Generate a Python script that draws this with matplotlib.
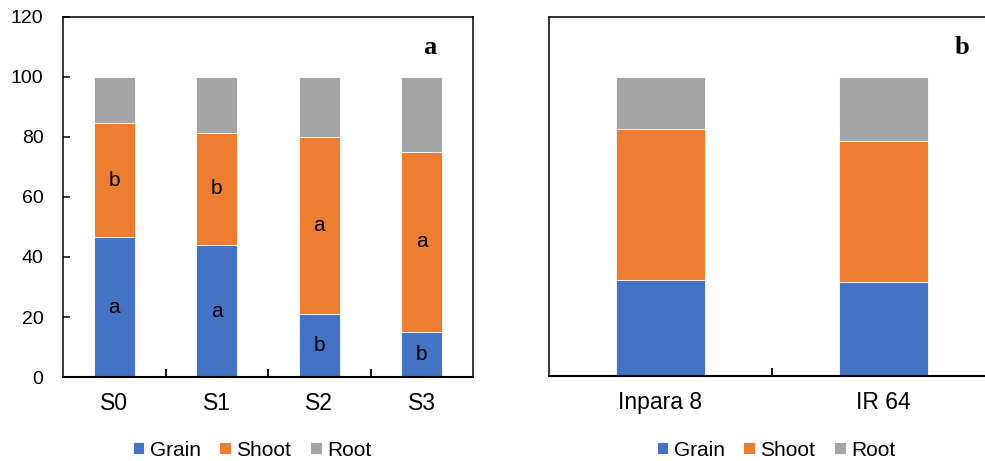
import numpy as np
import matplotlib
matplotlib.use("Agg")
import matplotlib.pyplot as plt

plt.rcParams['font.family'] = ['Liberation Sans', 'DejaVu Sans']

# panel a: salinity levels
levels = ["S0", "S1", "S2", "S3"]
grain_a = [46.5, 44.0, 21.0, 15.1]
shoot_a = [38.1, 37.3, 58.8, 60.0]
root_a = [15.4, 18.7, 20.2, 24.9]
grain_letters = ["a", "a", "b", "b"]
shoot_letters = ["b", "b", "a", "a"]

# panel b: varieties
varieties = ["Inpara 8", "IR 64"]
grain_b = [32.2, 31.3]
shoot_b = [50.2, 47.2]
root_b = [17.6, 21.5]

colors = {"Grain": "#4472C4", "Shoot": "#ED7D31", "Root": "#A5A5A5"}

fig = plt.figure(figsize=(9.85, 4.61), dpi=100)
ax1 = fig.add_axes([0.064, 0.182, 0.4162, 0.7816])
ax2 = fig.add_axes([0.5574, 0.1844, 0.4523, 0.779])


def stacked(ax, cats, grain, shoot, root):
    x = np.arange(len(cats))
    g = np.array(grain)
    s = np.array(shoot)
    r = np.array(root)
    kw = dict(width=0.4, edgecolor="white", linewidth=0.6)
    ax.bar(x, g, color=colors["Grain"], label="Grain", **kw)
    ax.bar(x, s, bottom=g, color=colors["Shoot"], label="Shoot", **kw)
    ax.bar(x, r, bottom=g + s, color=colors["Root"], label="Root", **kw)
    ax.set_xlim(-0.5, len(cats) - 0.5)
    ax.set_ylim(0, 120)
    ax.set_xticks(x)
    ax.set_xticklabels(cats, fontsize=16.5)
    ax.set_xticks(np.arange(len(cats) - 1) + 0.5, minor=True)
    ax.tick_params(axis="x", which="major", length=0, pad=11)
    ax.tick_params(axis="x", which="minor", direction="in", length=6, width=1.3)
    for side in ["left", "top", "right"]:
        ax.spines[side].set_linewidth(1.1)
    ax.spines["bottom"].set_linewidth(1.5)
    return x, g, s


x, g, s = stacked(ax1, levels, grain_a, shoot_a, root_a)
ax1.set_yticks(np.arange(0, 121, 20))
ax1.tick_params(axis="y", direction="in", length=5, width=1.1, labelsize=14, pad=14)
for i in range(len(levels)):
    ax1.text(x[i], g[i] / 2, grain_letters[i], ha="center", va="center", fontsize=15)
    ax1.text(x[i], g[i] + s[i] / 2, shoot_letters[i], ha="center", va="center", fontsize=15)
ax1.text(430 / 985, 1 - 47 / 461, "a", transform=fig.transFigure, ha="center", va="center",
         fontsize=19, fontweight="bold", family="Liberation Serif")

stacked(ax2, varieties, grain_b, shoot_b, root_b)
ax2.set_yticks([])
fig.text(962 / 985, 1 - 48 / 461, "b", ha="center", va="center",
         fontsize=19, fontweight="bold", family="Liberation Serif")

leg_kw = dict(loc="center", ncol=3, frameon=False, fontsize=15, handlelength=0.55,
              handleheight=0.55, handletextpad=0.27, columnspacing=0.9,
              bbox_transform=fig.transFigure)
ax1.legend(bbox_to_anchor=(252 / 985, 1 - 450 / 461), **leg_kw)
ax2.legend(bbox_to_anchor=(776 / 985, 1 - 450 / 461), **leg_kw)

fig.savefig("out.png", dpi=100)
